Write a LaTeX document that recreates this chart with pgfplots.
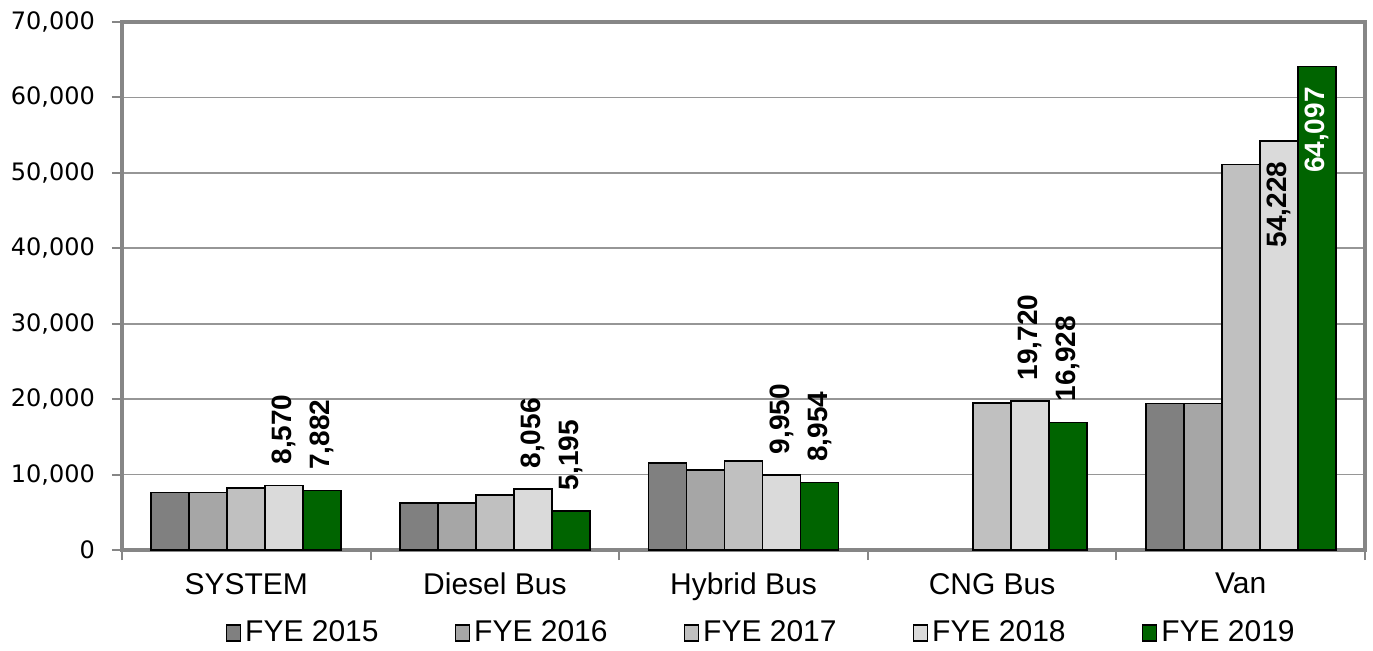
\documentclass[border=0pt]{standalone}
\usepackage{fontspec}
\setmainfont{Liberation Sans}
\newfontfamily\dejavu{DejaVu Sans}
\usepackage{pgfplots}
\usepackage{pgfplotstable}
\pgfplotsset{compat=1.18}

\definecolor{c15}{RGB}{128,128,128}
\definecolor{c16}{RGB}{166,166,166}
\definecolor{c17}{RGB}{192,192,192}
\definecolor{c18}{RGB}{218,218,218}
\definecolor{c19}{RGB}{0,100,0}
\definecolor{framegray}{RGB}{134,134,134}
\definecolor{gridgray}{RGB}{150,150,150}

\pgfplotstableread{
x y
0 8570
1 8056
2 9950
3 19720
4 54228
}\fyeB
\pgfplotstableread{
x y
0 7882
1 5195
2 8954
3 16928
4 64097
}\fyeC

% value labels drawn from the same tables, as invisible bars
\pgfplotsset{
  labels/.style={draw=none, fill=none, forget plot, nodes near coords,
    every node near coord/.append style={rotate=90, inner xsep=10pt,
      font=\bfseries\fontsize{14}{16}\selectfont}},
  above/.style={restrict x to domain=0:3,
    every node near coord/.append style={anchor=west, text=black}},
  inside/.style={restrict x to domain=4:4,
    every node near coord/.append style={anchor=east, text=#1}},
}

\begin{document}
\begin{tikzpicture}
\useasboundingbox (-61pt,-50pt) rectangle (625.5pt,275pt);
\begin{axis}[
  at={(0,0)}, anchor=south west,
  scale only axis, width=621.5pt, height=264pt,
  ybar, bar width=19pt,
  xmin=-0.5, xmax=4.5, ymin=0, ymax=70000,
  xtick={-0.5,0.5,1.5,2.5,3.5,4.5},
  x tick label as interval,
  xticklabels={SYSTEM,Diesel Bus,Hybrid Bus,CNG Bus,Van},
  ytick={0,10000,20000,30000,40000,50000,60000,70000},
  scaled y ticks=false,
  /pgf/number format/fixed,
  /pgf/number format/1000 sep={,},
  /pgf/number format/assume math mode=true,
  tick pos=left, tick align=outside, major tick length=5pt,
  tick style={framegray, line width=1pt},
  axis line style={framegray, line width=2pt},
  ymajorgrids, major grid style={gridgray, line width=0.9pt},
  yticklabel style={font=\dejavu\fontsize{12}{14}\selectfont, xshift=-5pt},
  xticklabel style={font=\fontsize{15}{18}\selectfont, yshift=-3pt},
  legend columns=5,
  legend style={at={(0.515,-0.157)}, anchor=center, draw=none, fill=none,
    font=\fontsize{15}{18}\selectfont,
    /tikz/every even column/.append style={column sep=36pt}},
  legend image code/.code={\draw[#1] (0pt,-4pt) rectangle (7pt,4pt);},
  every axis plot/.append style={line width=0.8pt},
]
\addplot[draw=black, fill=c15, bar shift=-38pt] coordinates {(0,7600) (1,6200) (2,11500) (4,19400)};
\addplot[draw=black, fill=c16, bar shift=-19pt] coordinates {(0,7600) (1,6200) (2,10600) (4,19400)};
\addplot[draw=black, fill=c17, bar shift=0pt] coordinates {(0,8200) (1,7300) (2,11800) (3,19450) (4,51100)};
\addplot[draw=black, fill=c18, bar shift=19pt] table[x=x, y=y] {\fyeB};
\addplot[draw=black, fill=c19, bar shift=38pt] table[x=x, y=y] {\fyeC};
\legend{FYE 2015, FYE 2016, FYE 2017, FYE 2018, FYE 2019}
\addplot[labels, above, bar shift=19pt] table[x=x, y=y] {\fyeB};
\addplot[labels, inside=black, bar shift=19pt] table[x=x, y=y] {\fyeB};
\addplot[labels, above, bar shift=38pt] table[x=x, y=y] {\fyeC};
\addplot[labels, inside=white, bar shift=38pt] table[x=x, y=y] {\fyeC};
\end{axis}
\end{tikzpicture}
\end{document}
